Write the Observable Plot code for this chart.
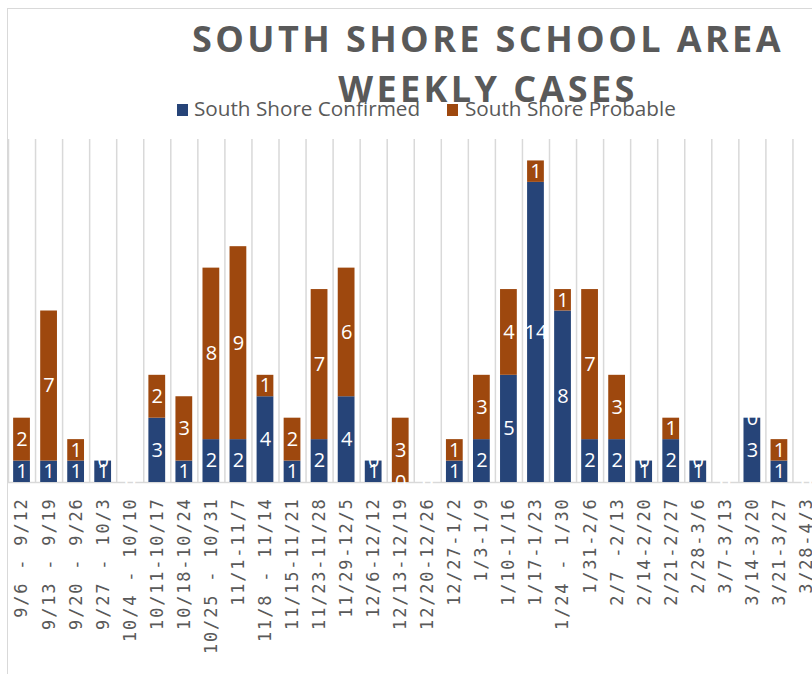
<!DOCTYPE html>
<html>
<head>
<meta charset="utf-8">
<script src="https://cdn.jsdelivr.net/npm/d3@7"></script>
<script src="https://cdn.jsdelivr.net/npm/@observablehq/plot@0.6"></script>
<style>
  html, body { margin: 0; padding: 0; background: #fff; }
  #wrap { position: relative; width: 812px; height: 674px; overflow: hidden; background: #fff; }
  #border { position: absolute; left: 7px; top: 8px; width: 900px; height: 700px; border: 1px solid #d9d9d9; box-sizing: border-box; }
  #chart { position: absolute; left: 0; top: 0; width: 820px; }
  #chart svg { max-width: none; }
  .title { position: absolute; left: 488px; transform: translateX(-50%); white-space: nowrap;
           font-family: "Open Sans", sans-serif; font-weight: 700; font-size: 36px; line-height: 36px;
           letter-spacing: 3.4px; color: #595959; }
  .leg { position: absolute; top: 98px; font-family: "Open Sans", sans-serif; font-size: 20.7px; line-height: 20px;
         color: #595959; white-space: nowrap; }
  .sw { position: absolute; top: 104px; width: 11px; height: 12px; }
</style>
</head>
<body>
<div id="wrap">
  <div id="border"></div>
  <div id="chart"></div>
  <div class="sw" style="left:177px;background:#264478"></div>
  <div class="leg" style="left:194px">South Shore Confirmed</div>
  <div class="sw" style="left:447px;background:#9E480E"></div>
  <div class="leg" style="left:465px">South Shore Probable</div>
  <div class="title" style="top:21px">SOUTH SHORE SCHOOL AREA</div>
  <div class="title" style="top:71px">WEEKLY CASES</div>
</div>
<script>
const weeks = ["9/6 - 9/12","9/13 - 9/19","9/20 - 9/26","9/27 - 10/3","10/4 - 10/10","10/11-10/17","10/18-10/24","10/25 - 10/31","11/1-11/7","11/8 - 11/14","11/15-11/21","11/23-11/28","11/29-12/5","12/6-12/12","12/13-12/19","12/20-12/26","12/27-1/2","1/3-1/9","1/10-1/16","1/17-1/23","1/24 - 1/30","1/31-2/6","2/7 -2/13","2/14-2/20","2/21-2/27","2/28-3/6","3/7-3/13","3/14-3/20","3/21-3/27","3/28-4/3"];
const confirmed = [1,1,1,1,0,3,1,2,2,4,1,2,4,1,0,0,1,2,5,14,8,2,2,1,2,1,0,3,1,0];
const probable  = [2,7,1,0,0,2,3,8,9,1,2,7,6,0,3,0,1,3,4,1,1,7,3,0,1,0,0,0,1,0];
const seriesNames = ["South Shore Confirmed", "South Shore Probable"];
const seriesColors = ["#264478", "#9E480E"];

const rows = [
  ...weeks.map((w, i) => ({week: w, series: seriesNames[0], value: confirmed[i]})),
  ...weeks.map((w, i) => ({week: w, series: seriesNames[1], value: probable[i]}))
];

const W = 820, ML = 8, MR = 0.5;
const step = (W - ML - MR) / weeks.length;

const chart = Plot.plot({
  width: W,
  height: 674,
  marginLeft: ML,
  marginRight: MR,
  marginTop: 139,
  marginBottom: 192,
  style: {background: "transparent", maxWidth: "none"},
  x: {domain: weeks, paddingInner: 0.38, paddingOuter: 0.19, round: false, axis: null},
  y: {domain: [0, 16], axis: null},
  color: {domain: seriesNames, range: seriesColors},
  marks: [
    Plot.ruleX(weeks, {x: d => d, dx: -step / 2, stroke: "#d9d9d9", strokeWidth: 1.5}),
    Plot.ruleY([0], {stroke: "#d9d9d9", strokeWidth: 1.5}),
    Plot.barY(rows, {x: "week", y: "value", fill: "series"}),
    Plot.text(rows, Plot.stackY({x: "week", y: "value", z: "series", text: d => String(d.value),
      fill: "white", fontSize: 20, fontFamily: "Open Sans"})),
    Plot.axisX({tickRotate: -90, tickSize: 0, tickPadding: 15, fontSize: 17,
      fontFamily: "DejaVu Sans Mono", fill: "#595959", label: null})
  ]
});
d3.select(chart).selectAll('[aria-label="x-axis tick label"] text').attr("letter-spacing", "1.8px");
document.getElementById("chart").appendChild(chart);
</script>
</body>
</html>
